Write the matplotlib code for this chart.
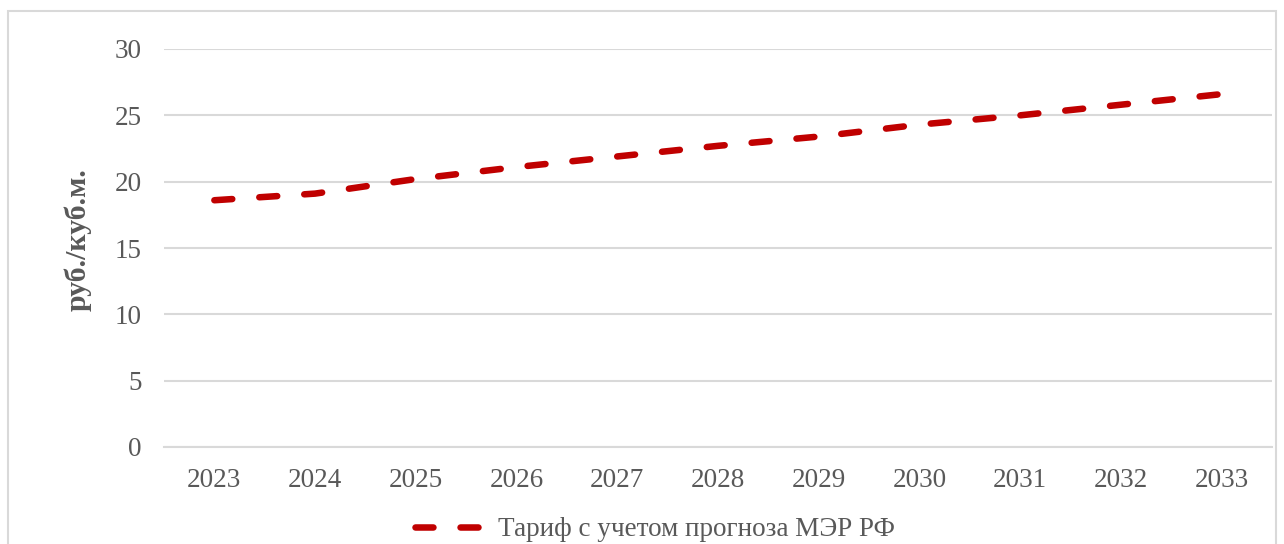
import matplotlib
matplotlib.use("Agg")
import matplotlib.pyplot as plt
from matplotlib.patches import Rectangle

years = ["2023", "2024", "2025", "2026", "2027", "2028", "2029", "2030", "2031", "2032", "2033"]
tariff = [18.6, 19.1, 20.2, 21.1, 21.9, 22.7, 23.4, 24.3, 25.0, 25.8, 26.6]
series_name = "Тариф с учетом прогноза МЭР РФ"
y_label = "руб./куб.м."
y_ticks = [0, 5, 10, 15, 20, 25, 30]

plt.rcParams['font.family'] = ['Liberation Serif', 'DejaVu Serif']

W, H = 1284, 544
fig = plt.figure(figsize=(W / 100, H / 100), dpi=100)
ax = fig.add_axes([164 / W, 1 - 447 / H, (1272 - 164) / W, (447 - 49) / H])

x = list(range(len(years)))
line, = ax.plot(x, tariff, color="#C00000", lw=4.7, dash_capstyle="round",
                solid_capstyle="round", label=series_name)
line.set_dashes((2.75, 4.15))

ax.set_xlim(-0.5, len(years) - 0.5)
ax.set_ylim(0, 30)
ax.set_yticks(y_ticks)
ax.set_xticks(x)
ax.set_xticklabels(years)
ax.yaxis.grid(True, color="#D9D9D9", lw=1.5)
ax.set_axisbelow(True)
for s in ["top", "right", "left"]:
    ax.spines[s].set_visible(False)
ax.spines["bottom"].set_color("#D9D9D9")
ax.spines["bottom"].set_linewidth(1.5)
ax.tick_params(axis="both", length=0, labelsize=19.5, colors="#595959")
ax.tick_params(axis="y", pad=16)
ax.tick_params(axis="x", pad=15)
ax.set_ylabel(y_label, fontsize=21.5, fontweight="bold", color="#595959")
ax.yaxis.set_label_coords(-0.065, 0.52, transform=ax.transAxes)

leg = fig.legend(handles=[line], loc="center", bbox_to_anchor=(655 / W, 1 - 530 / H),
                 frameon=False, fontsize=19.5, handlelength=2.5, handletextpad=0.6,
                 borderaxespad=0)
for t in leg.get_texts():
    t.set_color("#595959")

fig.patches.append(Rectangle((8 / W, -0.1), (1276 - 8) / W, 1.1 - 11 / H,
                             transform=fig.transFigure, fill=False,
                             edgecolor="#D9D9D9", lw=1.5))

fig.savefig("out.png", dpi=100, facecolor="white")
